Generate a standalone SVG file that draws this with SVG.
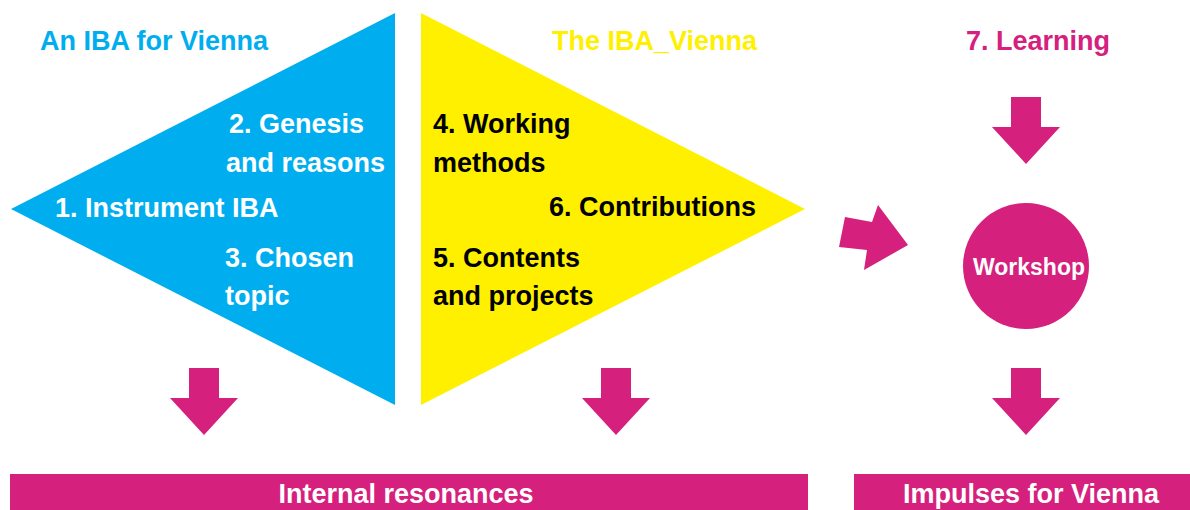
<svg xmlns="http://www.w3.org/2000/svg" width="1190" height="510" viewBox="0 0 1190 510">
<style>
text{font-family:"Liberation Sans",Arial,sans-serif;font-weight:bold;font-size:27px}
.w{fill:#fff}.k{fill:#000}.m{fill:#D5207D}
.blue{fill:#00AEEF}.yel{fill:#FFF000}
</style>
<defs>
<polygon id="down" points="-15,0 15,0 15,30 34,30 0,67 -34,30 -15,30" fill="#D5207D"/>
</defs>
<rect width="1190" height="510" fill="#fff"/>
<g id="titles">
<text x="40" y="50" class="blue">An IBA for Vienna</text>
<text x="552" y="50" class="yel">The IBA_Vienna</text>
<text x="966" y="50" class="m">7. Learning</text>
</g>
<g id="node-blue">
<polygon points="11,209 395,13 395,405" class="blue"/>
<text x="229" y="133" class="w">2. Genesis</text>
<text x="226" y="172" class="w">and reasons</text>
<text x="55" y="217" class="w">1. Instrument IBA</text>
<text x="225" y="267" class="w">3. Chosen</text>
<text x="225" y="305" class="w">topic</text>
</g>
<g id="node-yellow">
<polygon points="421,13 805,209 421,405" class="yel"/>
<text x="433" y="133" class="k">4. Working</text>
<text x="433" y="172" class="k">methods</text>
<text x="549" y="216" class="k">6. Contributions</text>
<text x="433" y="267" class="k">5. Contents</text>
<text x="433" y="305" class="k">and projects</text>
</g>
<g id="node-workshop">
<circle cx="1026" cy="266" r="63" fill="#D5207D"/>
<text x="1029" y="275" class="w" text-anchor="middle" style="font-size:23px">Workshop</text>
</g>
<g id="node-internal">
<rect x="10" y="474" width="798" height="40" fill="#D5207D"/>
<text x="406" y="503" class="w" text-anchor="middle">Internal resonances</text>
</g>
<g id="node-impulses">
<rect x="854" y="474" width="340" height="40" fill="#D5207D"/>
<text x="1031" y="503" class="w" text-anchor="middle">Impulses for Vienna</text>
</g>
<g id="connectors">
<use href="#down" x="204" y="368"/>
<use href="#down" x="616" y="368"/>
<use href="#down" x="1026" y="97" transform="translate(0,0)"/>
<use href="#down" x="1026" y="368"/>
<polygon points="839,247 845,217 872,222 878,205 908,245 864,270 867,250" fill="#D5207D"/>
</g>
</svg>
